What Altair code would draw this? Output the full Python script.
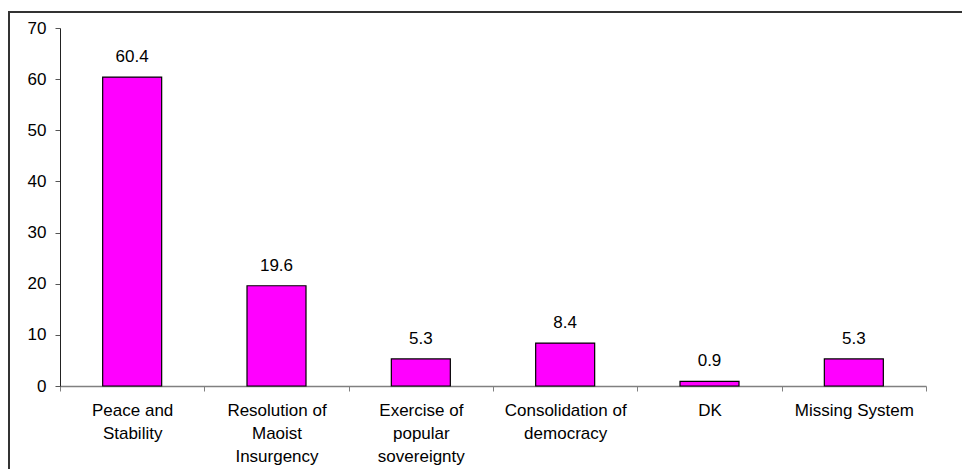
import altair as alt
import pandas as pd

# Category labels ("|" marks a line break) and percentage values
categories = [
    "Peace and|Stability",
    "Resolution of|Maoist|Insurgency",
    "Exercise of|popular|sovereignty",
    "Consolidation of|democracy",
    "DK",
    "Missing System",
]
values = [60.4, 19.6, 5.3, 8.4, 0.9, 5.3]

df = pd.DataFrame({"category": categories, "value": values})

FONT = "Liberation Sans"
FS = 17

x_enc = alt.X(
    "category:N",
    sort=categories,
    scale=alt.Scale(paddingInner=0, paddingOuter=0),
    axis=alt.Axis(
        title=None,
        labelAngle=0,
        labelExpr="split(datum.label, '|')",
        labelFont=FONT,
        labelFontSize=FS,
        labelColor="#000000",
        labelLineHeight=23,
        labelPadding=11,
        labelBaseline="top",
        tickBand="extent",
        tickSize=5,
        tickColor="#808080",
        domainColor="#808080",
        domainWidth=1.5,
        grid=False,
    ),
)

y_enc = alt.Y(
    "value:Q",
    scale=alt.Scale(domain=[0, 70], nice=False),
    axis=alt.Axis(
        title=None,
        values=[0, 10, 20, 30, 40, 50, 60, 70],
        labelFont=FONT,
        labelFontSize=FS,
        labelColor="#000000",
        labelPadding=9,
        tickSize=5,
        tickColor="#555555",
        domainColor="#222222",
        grid=False,
    ),
)

bars = alt.Chart(df).mark_bar(
    size=59, color="#FF00FF", stroke="#000000", strokeWidth=1.2
).encode(x=x_enc, y=y_enc)

labels = alt.Chart(df).mark_text(
    font=FONT, fontSize=FS, color="#000000", baseline="alphabetic", dy=-15
).encode(
    x=alt.X("category:N", sort=categories),
    y="value:Q",
    text=alt.Text("value:Q", format=".1f"),
)

# Outer frame around the chart
frame = alt.Chart(df).mark_rect(
    fill=None, stroke="#333333", strokeWidth=2, clip=False
).encode(
    x=alt.value(-51), x2=alt.value(930), y=alt.value(-16), y2=alt.value(470)
)

chart = (
    alt.layer(frame, bars, labels)
    .properties(
        width=866,
        height=358,
        autosize=alt.AutoSizeParams(type="none"),
        padding={"left": 60, "top": 28, "right": 36, "bottom": 83},
        background="#ffffff",
    )
    .configure_view(stroke=None)
)

chart.save("out.html", embed_options={"renderer": "svg", "actions": False})
